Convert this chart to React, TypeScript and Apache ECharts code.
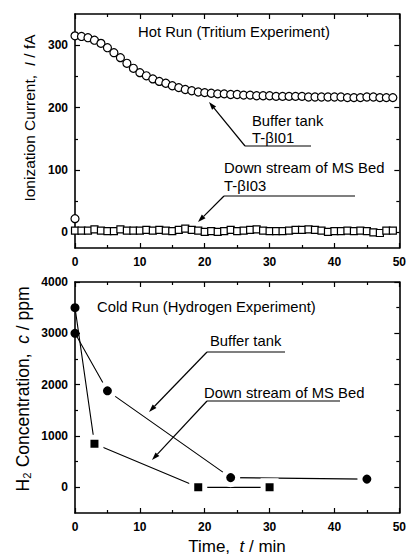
import React, { useEffect, useRef } from "react";
import * as echarts from "echarts";

// ---------- data ----------
const hotTime = [0, 1, 2, 3, 4, 5, 6, 7, 8, 9, 10, 11, 12, 13, 14, 15, 16, 17, 18, 19, 20, 21, 22, 23, 24, 25, 26, 27, 28, 29, 30, 31, 32, 33, 34, 35, 36, 37, 38, 39, 40, 41, 42, 43, 44, 45, 46, 47, 48, 49];
const hotBuffer = [315, 314, 312, 308, 303, 296, 288, 280, 271, 263, 256, 251, 246, 242, 239, 235, 232, 229, 227, 225, 224, 223, 222, 222, 221, 221, 220, 220, 219, 219, 219, 218, 218, 218, 218, 218, 217, 217, 217, 217, 217, 217, 216, 216, 216, 217, 217, 216, 216, 216];
const hotStartTime = [0];
const hotStart = [22];
const hotDownstream = [3, 3, 3, 5, 3, 2, 2, 5, 3, 3, 3, 4, 3, 4, 3, 2, 4, 6, 4, 3, 1, 2, 1, 2, 4, 2, 3, 4, 5, 3, 2, 2, 2, 3, 4, 4, 5, 4, 3, 1, 2, 2, 3, 2, 3, 2, 0, -1, 3, 3];

const coldBufferTime = [0, 5, 24, 45];
const coldBuffer = [3000, 1880, 190, 160];
const coldDownTime = [0, 3, 19, 30];
const coldDown = [3500, 850, 0, 0];

const hotYLabels = [0, 100, 200, 300];
const hotYMinor = [50, 150, 250];
const coldYLabels = [0, 1000, 2000, 3000, 4000];
const coldYMinor = [500, 1500, 2500, 3500];

// ---------- style ----------
const FONT = "'Liberation Sans', Arial, Helvetica, sans-serif";
const BLACK = "#000";
const axisLineStyle = { show: true, onZero: false, lineStyle: { color: BLACK, width: 1.6 } };
const tickLine = { color: BLACK, width: 1.2 };
const labelStyle = {
  color: BLACK,
  fontSize: 12,
  fontWeight: "bold" as const,
  fontFamily: FONT,
  formatter: (v: number) => String(v),
};

function xAxes(gridIndex: number) {
  const base = {
    type: "value" as const,
    gridIndex,
    min: 0,
    max: 50,
    interval: 10,
    splitLine: { show: false },
    minorSplitLine: { show: false },
    axisLine: axisLineStyle,
    axisTick: { inside: true, length: 5, lineStyle: tickLine },
    minorTick: { show: true, splitNumber: 2, length: 3, lineStyle: tickLine },
  };
  return [
    { ...base, position: "bottom", axisLabel: { ...labelStyle, margin: 8 } },
    { ...base, position: "top", axisLabel: { show: false } },
  ];
}

function yAxes(gridIndex: number, min: number, max: number, major: number[], minor: number[]) {
  const base = { type: "value" as const, gridIndex, min, max, splitLine: { show: false } };
  return [
    {
      ...base,
      position: "left",
      axisLine: axisLineStyle,
      axisTick: { inside: true, length: 5, customValues: major, lineStyle: tickLine },
      axisLabel: { ...labelStyle, margin: 7, customValues: major },
    },
    {
      ...base,
      position: "left",
      axisLine: { show: false, onZero: false },
      axisTick: { inside: true, length: 3, customValues: minor, lineStyle: tickLine },
      axisLabel: { show: false },
    },
    {
      ...base,
      position: "right",
      axisLine: axisLineStyle,
      axisTick: { inside: true, length: 5, customValues: major, lineStyle: tickLine },
      axisLabel: { show: false },
    },
    {
      ...base,
      position: "right",
      axisLine: { show: false, onZero: false },
      axisTick: { inside: true, length: 3, customValues: minor, lineStyle: tickLine },
      axisLabel: { show: false },
    },
  ];
}

function arrow(x1: number, y1: number, x2: number, y2: number) {
  const dx = x2 - x1;
  const dy = y2 - y1;
  const L = Math.hypot(dx, dy);
  const ux = dx / L;
  const uy = dy / L;
  const hl = 8;
  const hw = 2.6;
  const bx = x2 - ux * hl;
  const by = y2 - uy * hl;
  return [
    { type: "line", shape: { x1, y1, x2: bx, y2: by }, style: { stroke: BLACK, lineWidth: 1.2 } },
    {
      type: "polygon",
      shape: { points: [[x2, y2], [bx - uy * hw, by + ux * hw], [bx + uy * hw, by - ux * hw]] },
      style: { fill: BLACK },
    },
  ];
}

function hline(x1: number, x2: number, y: number) {
  return { type: "line", shape: { x1, y1: y, x2, y2: y }, style: { stroke: BLACK, lineWidth: 1.2 } };
}

function label(text: string, x: number, y: number, size = 14.8) {
  return {
    type: "text",
    x,
    y,
    style: { text, fill: BLACK, fontSize: size, fontFamily: FONT, textAlign: "left", textVerticalAlign: "middle" },
  };
}

function axisName(text: string, x: number, y: number, size: number, vertical: boolean) {
  return {
    type: "text",
    x,
    y,
    rotation: vertical ? Math.PI / 2 : 0,
    style: {
      text,
      rich: { i: { fontStyle: "italic", fontSize: size, fontFamily: FONT, fill: BLACK } },
      fill: BLACK,
      fontSize: size,
      fontFamily: FONT,
      textAlign: "center",
      textVerticalAlign: "middle",
    },
  };
}

function zip(xs: number[], ys: number[]) {
  return xs.map((x, i) => [x, ys[i]]);
}

export default function App() {
  const ref = useRef<HTMLDivElement>(null);

  useEffect(() => {
    if (!ref.current) return;
    const chart = echarts.init(ref.current, null, { renderer: "svg" });

    const coldDownData = zip(coldDownTime, coldDown).map((d, i) =>
      i === 0
        ? { value: d, symbol: "circle", symbolSize: 9, itemStyle: { borderWidth: 0 } }
        : { value: d }
    );
    const coldBufferData = zip(coldBufferTime, coldBuffer).map((d, i) =>
      i === 0 ? { value: d, symbolSize: 9, itemStyle: { borderWidth: 0 } } : { value: d }
    );

    const option: any = {
      animation: false,
      backgroundColor: "#fff",
      grid: [
        { left: 75, right: 9, top: 14, height: 234 },
        { left: 75, right: 9, top: 282, height: 231 },
      ],
      xAxis: [...xAxes(0), ...xAxes(1)],
      yAxis: [
        ...yAxes(0, -25, 350, hotYLabels, hotYMinor),
        ...yAxes(1, -500, 4000, coldYLabels, coldYMinor),
      ],
      series: [
        {
          type: "scatter",
          xAxisIndex: 0,
          yAxisIndex: 0,
          symbol: "circle",
          symbolSize: 8,
          itemStyle: { color: "#fff", borderColor: BLACK, borderWidth: 1.2, opacity: 1 },
          data: [...zip(hotTime, hotBuffer), ...zip(hotStartTime, hotStart)],
        },
        {
          type: "scatter",
          xAxisIndex: 0,
          yAxisIndex: 0,
          symbol: "rect",
          symbolSize: 7,
          itemStyle: { color: "#fff", borderColor: BLACK, borderWidth: 1.2, opacity: 1 },
          data: zip(hotTime, hotDownstream),
        },
        {
          type: "line",
          xAxisIndex: 2,
          yAxisIndex: 4,
          symbol: "circle",
          symbolSize: 14,
          showSymbol: true,
          lineStyle: { color: BLACK, width: 1.1 },
          itemStyle: { color: BLACK, borderColor: "#fff", borderWidth: 5 },
          data: coldBufferData,
        },
        {
          type: "line",
          xAxisIndex: 2,
          yAxisIndex: 4,
          symbol: "rect",
          symbolSize: 13,
          showSymbol: true,
          lineStyle: { color: BLACK, width: 1.1 },
          itemStyle: { color: BLACK, borderColor: "#fff", borderWidth: 5 },
          data: coldDownData,
        },
      ],
      graphic: [
        axisName("Ionization Current,  {i|I} / fA", 29, 118, 15.5, true),
        axisName("H₂ Concentration,  {i|c} / ppm", 23, 389, 17.5, true),
        axisName("Time,  {i|t} / min", 237, 546, 17, false),
        // top panel annotations
        label("Hot Run (Tritium Experiment)", 138, 32),
        label("Buffer tank", 252, 121),
        label("T-βI01", 252, 138),
        label("Down stream of MS Bed", 224, 168),
        label("T-βI03", 224, 186),
        hline(245, 311, 146),
        ...arrow(245, 146, 209, 102),
        hline(224, 355, 196),
        ...arrow(224, 196, 198, 222),
        // bottom panel annotations
        label("Cold Run (Hydrogen Experiment)", 97, 307),
        label("Buffer tank", 210, 341),
        label("Down stream of MS Bed", 204, 393),
        hline(207, 285, 352),
        ...arrow(207, 352, 149, 412),
        hline(207, 340, 401),
        ...arrow(207, 401, 152, 460),
      ],
    };

    chart.setOption(option);
    return () => chart.dispose();
  }, []);

  return (
    <div
      ref={ref}
      style={{ position: "fixed", left: 0, top: 0, width: 409, height: 558, background: "#fff" }}
    />
  );
}
